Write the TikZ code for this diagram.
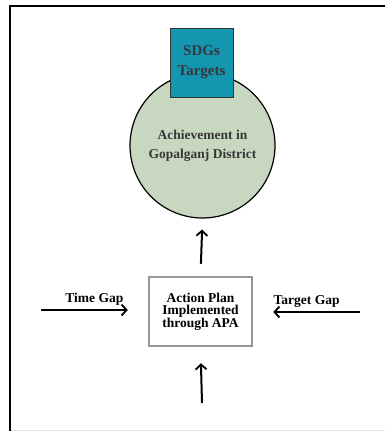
\documentclass[tikz,border=0pt]{standalone}
\usepackage{fontspec}
\setmainfont{Liberation Serif}
\usetikzlibrary{arrows.meta,positioning}
\definecolor{vertCercle}{RGB}{200,216,192}
\definecolor{bleuSDG}{RGB}{20,150,176}
\definecolor{grisCadre}{RGB}{150,150,150}
\definecolor{grisTexte}{RGB}{55,55,55}
\definecolor{grisLigne}{RGB}{225,225,225}

\begin{document}
\begin{tikzpicture}[x=1pt,y=-1pt,font=\bfseries\fontsize{13.5}{12.5}\selectfont,
  fleche/.style={-{Straight Barb[length=5pt,width=11pt,line width=1.8pt]}, line width=2pt}]

\useasboundingbox (0,0) rectangle (385,431);
\fill[white] (0,0) rectangle (385,431);
\draw[grisLigne, line width=1pt] (10,430) -- (385,430);
\draw[line width=2pt] (10,431) -- (10,6) -- (385,6);

\node[circle, draw, line width=1.2pt, fill=vertCercle, minimum size=145pt, inner sep=0pt,
      align=center, text=grisTexte, font=\bfseries\fontsize{13.5}{19}\selectfont] (circ) at (202.5,145.5)
      {Achievement in\\Gopalganj District};
\node[draw=black!80, line width=1pt, fill=bleuSDG, minimum width=63pt, minimum height=69pt,
      align=center, text=grisTexte, font=\bfseries\fontsize{15}{20}\selectfont] (sdg) at (201.5,62.5)
      {SDGs\\Targets};

\node[draw=grisCadre, line width=2.5pt, fill=white, minimum width=103pt, minimum height=69pt,
      align=center] (apa) at (200.5,311.5)
      {Action Plan\\Implemented\\through APA};

\coordinate (timeG) at (41,310);
\coordinate (targetG) at (360,312);
\coordinate (bas) at (202,403);

\draw[fleche, shorten <=12pt, shorten >=11pt] (apa.north) -- (circ.south);
\draw[fleche, shorten >=20pt] (timeG) -- (apa.west |- timeG) node[midway, above=0pt] {Time Gap};
\draw[fleche, shorten >=20pt] (targetG) -- (apa.east |- targetG) node[midway, above=0pt] {Target Gap};
\draw[fleche, shorten >=16pt] (bas) -- (apa.south);

\end{tikzpicture}
\end{document}
